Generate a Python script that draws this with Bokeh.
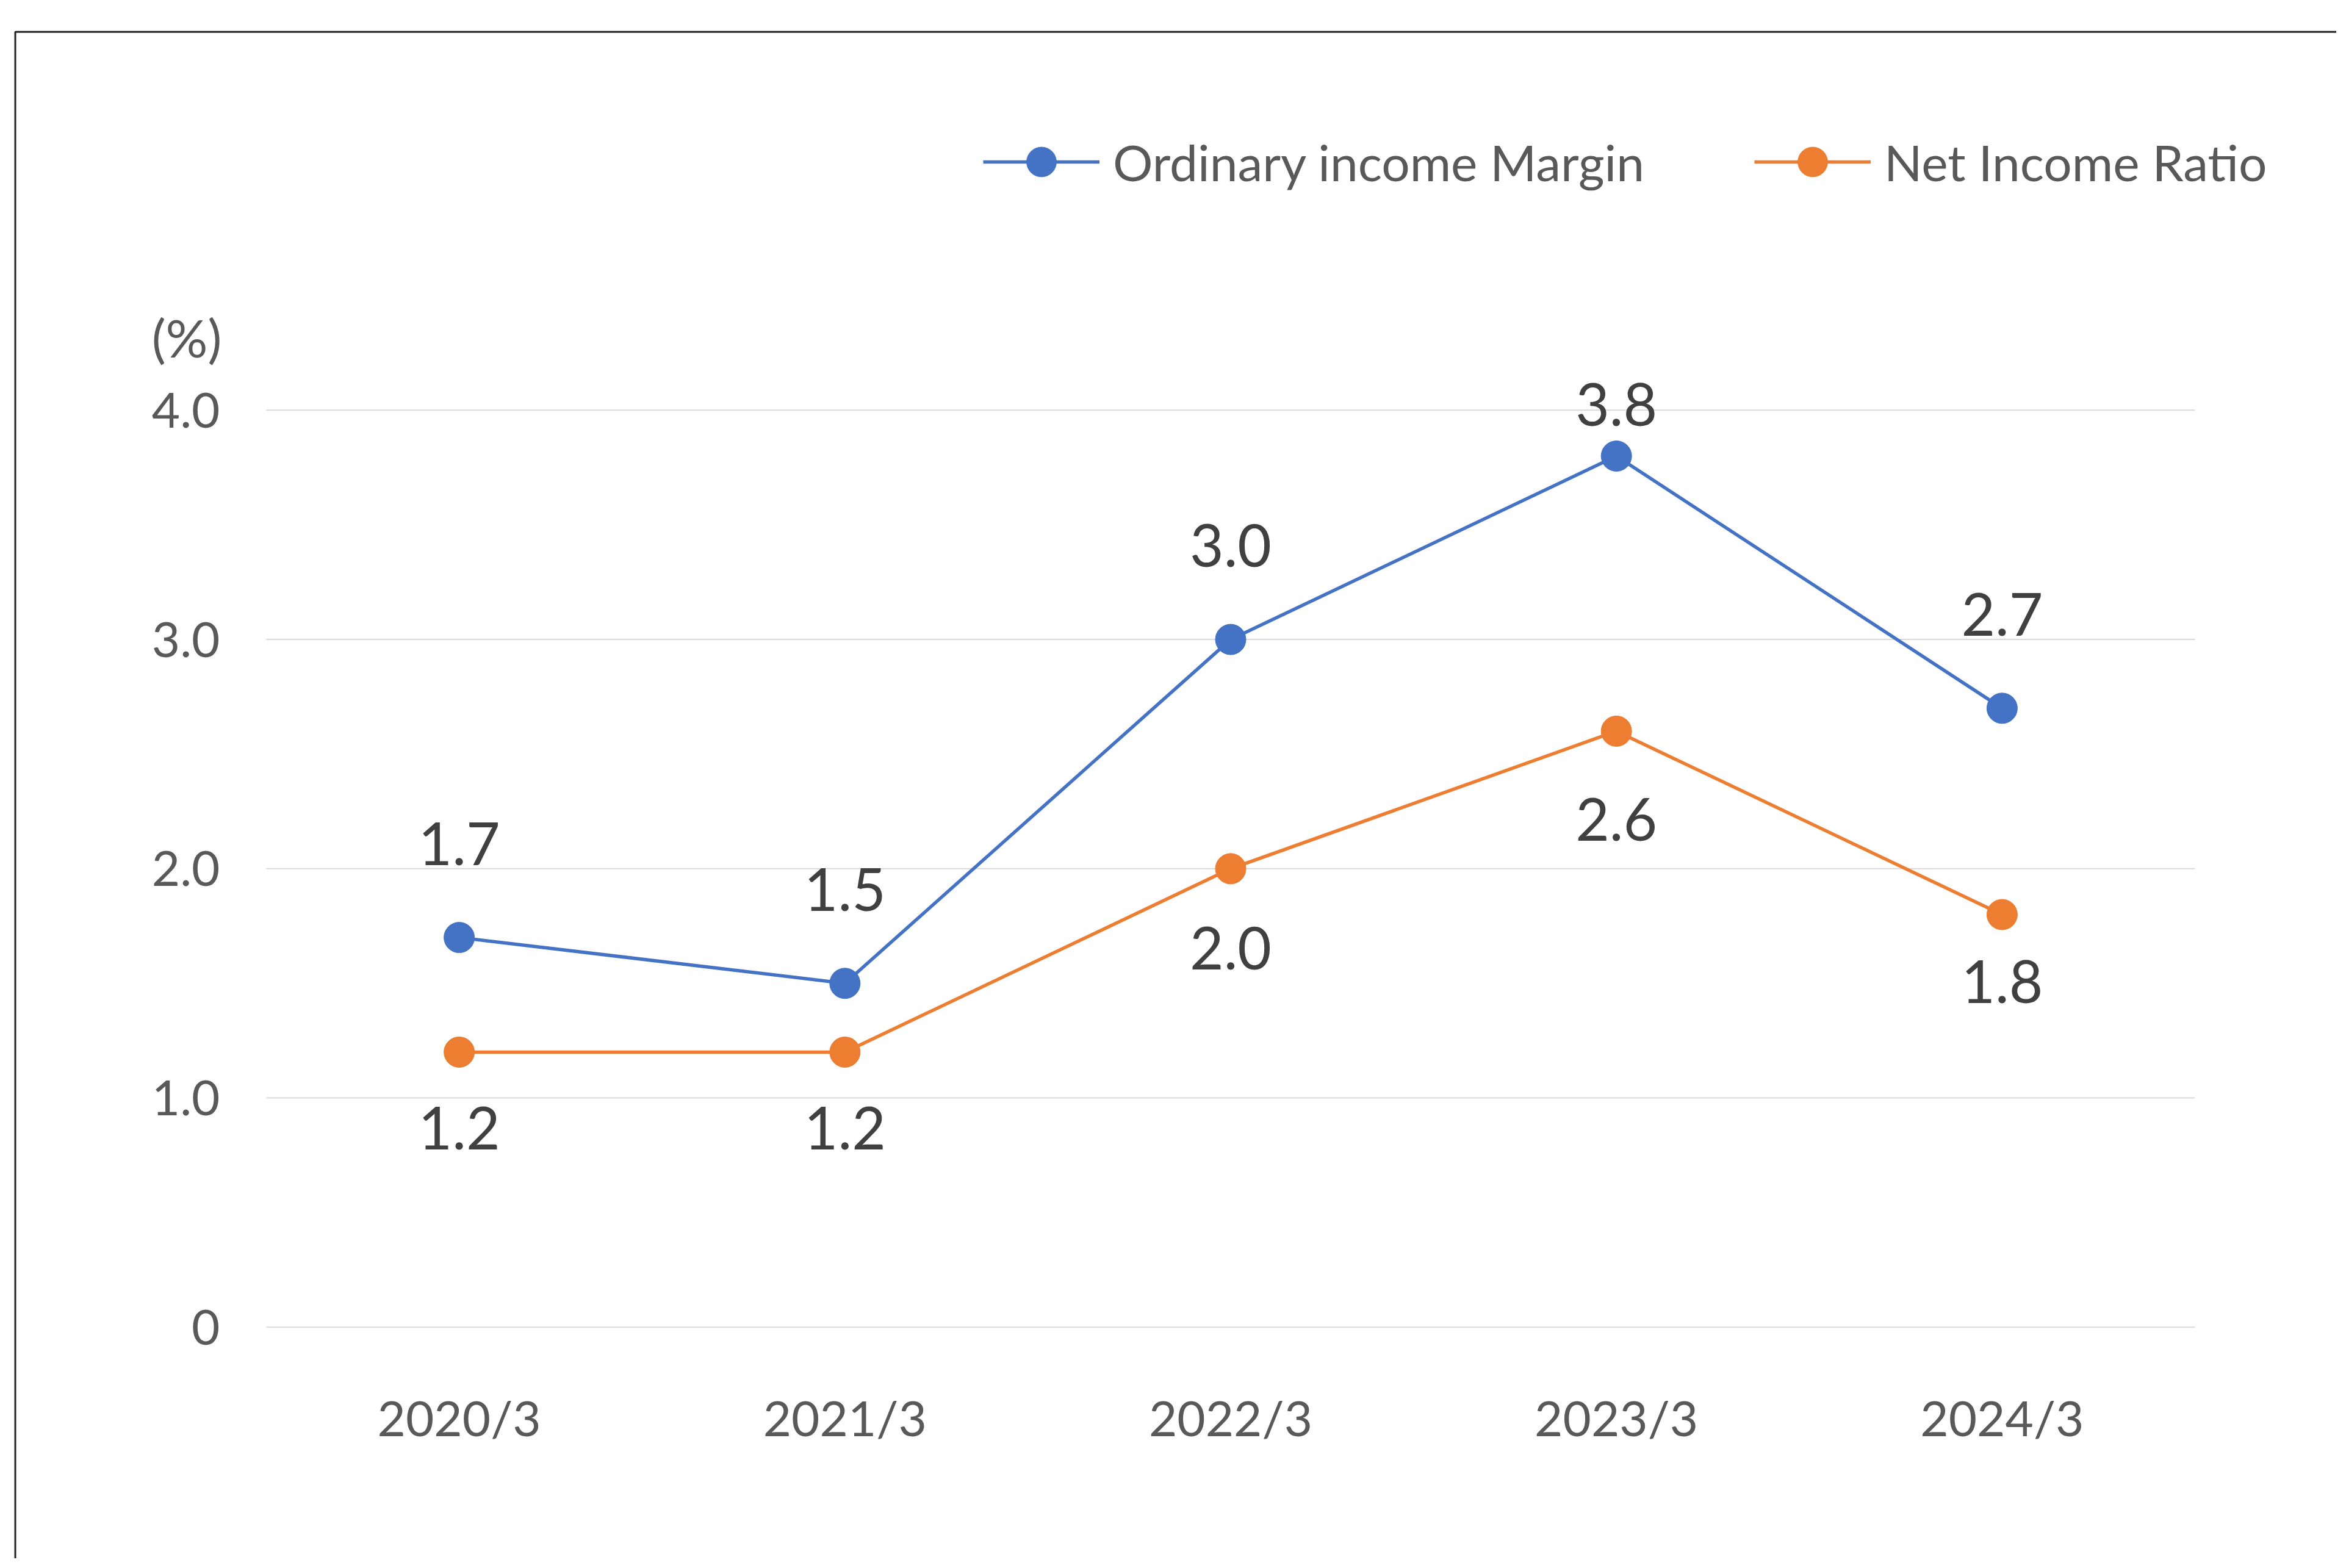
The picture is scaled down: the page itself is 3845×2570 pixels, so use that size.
from bokeh.plotting import figure
from bokeh.models import (Range1d, FixedTicker, Legend, LegendItem, Label, BoxAnnotation,
                          ColumnDataSource, CustomJSTickFormatter)
from bokeh.embed import file_html
from bokeh.resources import INLINE
from bokeh.core.properties import value

# ---- data ----
categories = ["2020/3", "2021/3", "2022/3", "2023/3", "2024/3"]
ordinary_income_margin = [1.7, 1.5, 3.0, 3.8, 2.7]
net_income_ratio = [1.2, 1.2, 2.0, 2.6, 1.8]
y_ticks = [0, 1, 2, 3, 4]
y_tick_labels = ["0", "1.0", "2.0", "3.0", "4.0"]
series_names = ["Ordinary income Margin", "Net Income Ratio"]
unit_label = "(%)"

# ---- styles ----
BLUE = "#4472C4"
ORANGE = "#ED7D31"
FONT = "Lato"
TICK_COLOR = "#595959"
LABEL_COLOR = "#404040"
blue_label_dy = [-154, -154, -154, -84, -154]
orange_label_dy = [125, 125, 130, 145, 110]

W, H = 3829, 2554
xs = [i + 0.5 for i in range(len(categories))]
n = len(categories)

p = figure(width=W, height=H, output_backend="svg", toolbar_location=None,
           x_range=Range1d(-0.6897, 5.367), y_range=Range1d(-1.009, 5.788),
           min_border=0, min_border_left=0, min_border_right=0,
           min_border_top=0, min_border_bottom=0)
p.outline_line_color = None
p.background_fill_color = "white"
p.border_fill_color = "white"
p.xgrid.grid_line_color = None
p.ygrid.grid_line_color = None

# axes fixed inside the frame
for ax in (p.xaxis, p.yaxis):
    ax.fixed_location = 0
    ax.axis_line_color = None
    ax.major_tick_line_color = None
    ax.minor_tick_line_color = None
    ax.major_tick_out = 0
    ax.major_tick_in = 0
    ax.major_label_text_font = FONT
    ax.major_label_text_font_size = "80px"
    ax.major_label_text_color = TICK_COLOR
p.yaxis.ticker = FixedTicker(ticks=y_ticks)
p.yaxis.major_label_overrides = dict(zip(y_ticks, y_tick_labels))
p.yaxis.major_label_standoff = 76
p.xaxis.ticker = FixedTicker(ticks=xs)
p.xaxis.formatter = CustomJSTickFormatter(args=dict(labels=categories),
                                          code="return labels[Math.round(tick - 0.5)];")
p.xaxis.major_label_standoff = 100

# horizontal gridlines across the category span
grid_src = ColumnDataSource(dict(y=y_ticks, x0=[0] * len(y_ticks), x1=[n] * len(y_ticks)))
p.segment(x0="x0", x1="x1", y0="y", y1="y", source=grid_src,
          line_color="#d9d9d9", line_width=2)

# series
src_b = ColumnDataSource(dict(x=xs, y=ordinary_income_margin,
                              t=[f"{v:.1f}" for v in ordinary_income_margin], dy=blue_label_dy))
src_o = ColumnDataSource(dict(x=xs, y=net_income_ratio,
                              t=[f"{v:.1f}" for v in net_income_ratio], dy=orange_label_dy))

ol = p.line("x", "y", source=src_o, line_color=ORANGE, line_width=5.5)
os_ = p.scatter("x", "y", source=src_o, size=50, fill_color=ORANGE, line_color=ORANGE)
bl = p.line("x", "y", source=src_b, line_color=BLUE, line_width=5.5)
bs = p.scatter("x", "y", source=src_b, size=50, fill_color=BLUE, line_color=BLUE)

for src in (src_b, src_o):
    p.text("x", "y", text="t", source=src, y_offset="dy", text_align="center",
           text_baseline="middle", text_font=value(FONT), text_font_size="96px",
           text_color=LABEL_COLOR)

# unit label
p.add_layout(Label(x=-0.1155, y=4.319, text=unit_label, text_align="right",
                   text_baseline="middle", text_font=FONT, text_font_size="86px",
                   text_color=TICK_COLOR))

# outer frame (right / bottom edges fall outside the picture)
p.add_layout(BoxAnnotation(left=-0.6509, right=20, top=5.650, bottom=-20,
                           fill_alpha=0, line_color="#231f20", line_alpha=1.0,
                           line_width=3))

legend = Legend(items=[LegendItem(label=series_names[0], renderers=[bl, bs]),
                       LegendItem(label=series_names[1], renderers=[ol, os_])],
                location=(1611, 2228), orientation="horizontal",
                glyph_width=191, glyph_height=122, label_standoff=22, spacing=180,
                padding=0, margin=0, border_line_color=None, background_fill_alpha=0,
                label_text_font=FONT, label_text_font_size="82px",
                label_text_color=TICK_COLOR)
p.add_layout(legend)

open("out.html", "w").write(file_html(p, INLINE))
